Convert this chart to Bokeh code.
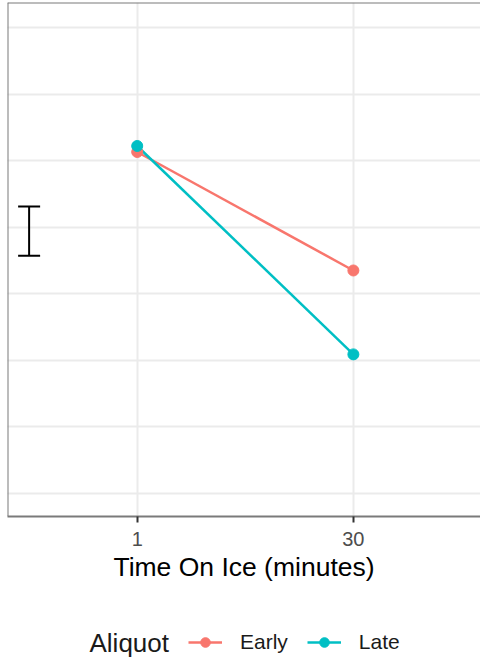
from bokeh.plotting import figure
from bokeh.layouts import column
from bokeh.models import (Range1d, FixedTicker, Span, Legend, LegendItem, Label,
                          Whisker, TeeHead, ColumnDataSource, Grid)
from bokeh.embed import file_html
from bokeh.resources import INLINE

# ---- data ----
time_labels = ["1", "30"]
time_pos = [1, 2]
early = [5.13, 3.35]
late = [5.22, 2.09]
err_x = [0.5]
err_lower = [3.57]
err_upper = [4.31]
y_grid = [0, 1, 2, 3, 4, 5, 6, 7]
series_names = ["Early", "Late"]
legend_title = "Aliquot"

FONT = "Liberation Sans"
RED = "#F8766D"
TEAL = "#00BFC4"
BORDER = "#7a7a7a"

p = figure(width=480, height=600, output_backend="svg", toolbar_location=None,
           x_range=Range1d(0.4, 2.588), y_range=Range1d(-0.345, 7.375),
           y_axis_location=None,
           min_border_left=7, min_border_right=0, min_border_top=2,
           min_border_bottom=84)
p.outline_line_color = None
p.background_fill_color = "white"
p.border_fill_color = "white"

# grids
p.xgrid.ticker = FixedTicker(ticks=time_pos)
p.xgrid.grid_line_color = "#ebebeb"
p.xgrid.grid_line_width = 2
yg = Grid(dimension=1, ticker=FixedTicker(ticks=y_grid),
          grid_line_color="#ebebeb", grid_line_width=2)
p.add_layout(yg)

# x axis
ax = p.xaxis[0]
ax.ticker = FixedTicker(ticks=time_pos)
ax.major_label_overrides = {pos: lab for pos, lab in zip(time_pos, time_labels)}
ax.axis_line_color = BORDER
ax.axis_line_width = 2
ax.major_tick_line_color = "#333333"
ax.major_tick_line_width = 2
ax.major_tick_out = 6
ax.major_tick_in = 0
ax.minor_tick_line_color = None
ax.major_label_text_font = FONT
ax.major_label_text_font_size = "20px"
ax.major_label_text_color = "#4d4d4d"
ax.major_label_standoff = 9
ax.axis_label = "Time On Ice (minutes)"
ax.axis_label_text_font = FONT
ax.axis_label_text_font_size = "26.5px"
ax.axis_label_text_font_style = "normal"
ax.axis_label_text_color = "black"
ax.axis_label_standoff = 3

# panel border (left, top)
p.add_layout(Span(location=0.4, dimension="height", line_color=BORDER, line_width=2))
p.add_layout(Span(location=7.375, dimension="width", line_color=BORDER, line_width=2))

# series
p.line(time_pos, early, line_color=RED, line_width=2.5)
p.line(time_pos, late, line_color=TEAL, line_width=2.5)
p.scatter(time_pos, early, size=11, fill_color=RED, line_color=RED)
p.scatter(time_pos, late, size=11, fill_color=TEAL, line_color=TEAL)

# representative error bar
esrc = ColumnDataSource(dict(x=err_x, lower=err_lower, upper=err_upper))
w = Whisker(source=esrc, base="x", lower="lower", upper="upper", dimension="height",
            line_color="black", line_width=2,
            upper_head=TeeHead(size=22, line_color="black", line_width=2),
            lower_head=TeeHead(size=22, line_color="black", line_width=2))
p.add_layout(w)

# ---- legend strip ----
q = figure(width=480, height=58, output_backend="svg", toolbar_location=None,
           x_range=Range1d(0, 480), y_range=Range1d(0, 58),
           x_axis_location=None, y_axis_location=None,
           min_border_left=0, min_border_right=0, min_border_top=0,
           min_border_bottom=0)
q.outline_line_color = None
q.grid.visible = False
items = []
for name, col, vals in zip(series_names, [RED, TEAL], [early, late]):
    lr = q.line(x=time_pos, y=vals, line_color=col, line_width=2.5, visible=False)
    sr = q.scatter(x=time_pos, y=vals, size=11, fill_color=col, line_color=col,
                   visible=False)
    items.append(LegendItem(label=name, renderers=[lr, sr]))

legend = Legend(items=items, orientation="horizontal", location=(181, 4))
legend.border_line_color = None
legend.background_fill_alpha = 0
legend.inactive_fill_alpha = 0
legend.label_text_font = FONT
legend.label_text_font_size = "21px"
legend.label_text_color = "#1a1a1a"
legend.glyph_width = 34
legend.glyph_height = 24
legend.spacing = 19
legend.label_standoff = 18
legend.padding = 0
legend.margin = 0
q.add_layout(legend, "center")

q.add_layout(Label(x=82, y=16, x_units="screen", y_units="screen", text=legend_title,
                   text_font=FONT, text_font_size="26px", text_color="#1a1a1a",
                   text_baseline="middle", text_align="left"))

open("out.html", "w").write(file_html(column(p, q, spacing=0), INLINE))
